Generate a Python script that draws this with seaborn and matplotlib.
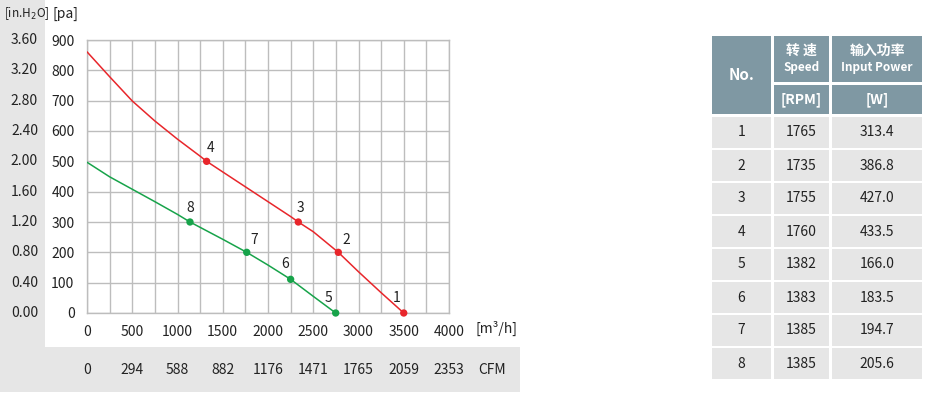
import numpy as np
import pandas as pd
import matplotlib
matplotlib.use("Agg")
import matplotlib.pyplot as plt
import matplotlib.transforms as mtransforms
from matplotlib.patches import Rectangle
import seaborn as sns

sns.set_style("white")
plt.rcParams['font.family'] = ['Noto Sans CJK SC', 'DejaVu Sans']

# fan curves (flow m3/h, pressure pa)
red_flow = [0, 250, 500, 750, 1000, 1250, 1322, 1500, 1750, 2000, 2250, 2335, 2500, 2777, 3000, 3250, 3500]
red_pa = [861, 779, 699, 633, 573, 517, 500, 465, 416, 367, 318, 300, 268, 200, 136, 67, 0]
green_flow = [0, 250, 500, 750, 1000, 1138, 1500, 1765, 2000, 2250, 2500, 2748]
green_pa = [497, 449, 408, 367, 325, 300, 243, 200, 158, 111, 55, 0]

# numbered operating points
pt_no = ['1', '2', '3', '4', '5', '6', '7', '8']
pt_flow = [3500, 2777, 2335, 1322, 2748, 2250, 1765, 1138]
pt_pa = [0, 200, 300, 500, 0, 111, 200, 300]
pt_curve = ['red', 'red', 'red', 'red', 'green', 'green', 'green', 'green']
pt_dx = [-7, 8, 2, 4, -7, -6, 7, 0]
pt_dy = [15, 12, 14, 13, 15, 15, 12, 14]

pa_ticks = [0, 100, 200, 300, 400, 500, 600, 700, 800, 900]
inh2o_labels = ['0.00', '0.40', '0.80', '1.20', '1.60', '2.00', '2.40', '2.80', '3.20', '3.60']
flow_ticks = [0, 500, 1000, 1500, 2000, 2500, 3000, 3500, 4000]
cfm_labels = ['0', '294', '588', '882', '1176', '1471', '1765', '2059', '2353']

# table
tbl_speed = [1765, 1735, 1755, 1760, 1382, 1383, 1385, 1385]
tbl_power = ['313.4', '386.8', '427.0', '433.5', '166.0', '183.5', '194.7', '205.6']

RED = '#e8262b'
GREEN = '#17a34a'
GRID = '#bdbdbd'
BAND = '#e6e6e6'
HEAD = '#7f98a3'
TXT = '#222222'

W, H = 925, 395
fig = plt.figure(figsize=(W / 100, H / 100), dpi=100)
fig.patch.set_facecolor('white')


def fx(px):
    return px / W


def fy(py):
    return 1 - py / H


def cell(xa, xb, ya, yb, color):
    fig.patches.append(Rectangle((fx(xa), fy(yb)), fx(xb - xa), fy(ya) - fy(yb),
                                 transform=fig.transFigure, facecolor=color,
                                 edgecolor='none', zorder=-5))


# grey bands behind the axis labels
cell(0, 45, 0, 347, BAND)
cell(0, 520, 347, 392, BAND)

# chart axes
x0, x1, y0, y1 = 87, 449, 40, 313
ax = fig.add_axes([fx(x0), fy(y1), fx(x1 - x0), fy(y0) - fy(y1)])
ax.set_facecolor('none')

red = pd.DataFrame({'flow': red_flow, 'pa': red_pa})
green = pd.DataFrame({'flow': green_flow, 'pa': green_pa})
sns.lineplot(data=red, x='flow', y='pa', color=RED, lw=1.1, ax=ax, sort=False, zorder=3)
sns.lineplot(data=green, x='flow', y='pa', color=GREEN, lw=1.1, ax=ax, sort=False, zorder=3)

pts = pd.DataFrame({'no': pt_no, 'flow': pt_flow, 'pa': pt_pa, 'curve': pt_curve})
sns.scatterplot(data=pts, x='flow', y='pa', hue='curve', palette={'red': RED, 'green': GREEN},
                s=28, edgecolor='none', legend=False, ax=ax, zorder=4, clip_on=False)
for no, fl, pa, dx, dy in zip(pt_no, pt_flow, pt_pa, pt_dx, pt_dy):
    ax.annotate(no, (fl, pa), xytext=(dx * 0.72, dy * 0.72), textcoords='offset points',
                ha='center', va='center', fontsize=10, color=TXT)

ax.set_xlim(0, 4000)
ax.set_ylim(0, 900)
ax.set_xticks(np.arange(0, 4001, 250), minor=True)
ax.set_xticks(flow_ticks)
ax.set_yticks(pa_ticks)
ax.grid(True, which='both', color=GRID, lw=1)
for s in ax.spines.values():
    s.set_color(GRID)
    s.set_linewidth(1)
ax.tick_params(which='both', length=0)
ax.tick_params(axis='x', pad=9, labelsize=10, labelcolor=TXT)
ax.tick_params(axis='y', pad=9, labelsize=10, labelcolor=TXT)
ax.set_xlabel('')
ax.set_ylabel('')

# in.H2O labels on the left band
trans_y = mtransforms.blended_transform_factory(fig.transFigure, ax.transData)
for v, lab in zip(pa_ticks, inh2o_labels):
    ax.text(fx(38), v, lab, transform=trans_y, ha='right', va='center',
            fontsize=10, color=TXT, clip_on=False)

# CFM row
trans_x = mtransforms.blended_transform_factory(ax.transData, fig.transFigure)
for v, lab in zip(flow_ticks, cfm_labels):
    ax.text(v, fy(370), lab, transform=trans_x, ha='center', va='center',
            fontsize=10, color=TXT, clip_on=False)
fig.text(fx(478), fy(370), 'CFM', ha='left', va='center', fontsize=10, color=TXT)
fig.text(fx(476), fy(328), '[m³/h]', ha='left', va='center', fontsize=10, color=TXT)
fig.text(fx(4), fy(14), '[in.H$_2$O]', ha='left', va='center', fontsize=8.5, color=TXT)
fig.text(fx(52), fy(14), '[pa]', ha='left', va='center', fontsize=10, color=TXT)

# spec table on the right
cols = [(712, 771), (774, 829), (832, 922)]

cell(cols[0][0], cols[0][1], 36, 114, HEAD)
for ca, cb in cols[1:]:
    cell(ca, cb, 36, 82, HEAD)
    cell(ca, cb, 85, 114, HEAD)


def cx(c):
    return fx((cols[c][0] + cols[c][1]) / 2)


hd = dict(ha='center', va='center', color='white', fontweight='bold')
fig.text(cx(0), fy(75), 'No.', fontsize=11, **hd)
fig.text(cx(1), fy(51), '转 速', fontsize=10, **hd)
fig.text(cx(1), fy(68), 'Speed', fontsize=8.5, **hd)
fig.text(cx(2), fy(51), '输入功率', fontsize=10, **hd)
fig.text(cx(2), fy(68), 'Input Power', fontsize=8.5, **hd)
fig.text(cx(1), fy(100), '[RPM]', fontsize=10, **hd)
fig.text(cx(2), fy(100), '[W]', fontsize=10, **hd)

for i in range(8):
    ya = 117 + i * 33
    yb = ya + 31
    for ca, cb in cols:
        cell(ca, cb, ya, yb, BAND)
    ym = fy((ya + yb) / 2)
    fig.text(cx(0), ym, pt_no[i], ha='center', va='center', fontsize=10, color=TXT)
    fig.text(cx(1), ym, str(tbl_speed[i]), ha='center', va='center', fontsize=10, color=TXT)
    fig.text(cx(2), ym, tbl_power[i], ha='center', va='center', fontsize=10, color=TXT)

fig.savefig('out.png', dpi=100)
